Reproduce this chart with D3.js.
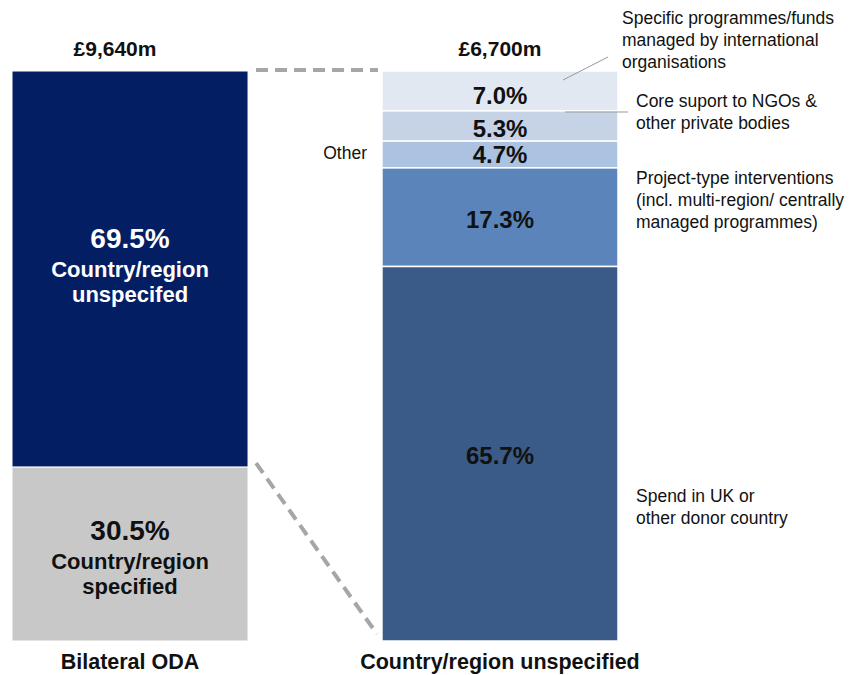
<!DOCTYPE html>
<html><head><meta charset="utf-8">
<script src="https://cdn.jsdelivr.net/npm/d3@7"></script>
<style>body{margin:0;background:#fff}svg{font-family:"Liberation Sans",Arial,sans-serif}</style>
</head><body><svg id="c" width="867" height="675"></svg>
<script>
const leftCats = ["Country/region unspecifed", "Country/region specified"];
const leftVals = [69.5, 30.5];
const leftColors = ["#041e63", "#c8c8c8"];
const rightCats = ["Specific programmes/funds managed by international organisations", "Core suport to NGOs & other private bodies", "Other", "Project-type interventions", "Spend in UK or other donor country"];
const rightVals = [7.0, 5.3, 4.7, 17.3, 65.7];
const rightColors = ["#e2e8f1", "#c6d3e6", "#abc2e0", "#5b85ba", "#3a5a88"];
const totals = ["£9,640m", "£6,700m"];
const barNames = ["Bilateral ODA", "Country/region unspecified"];

const svg = d3.select("#c");
const y = d3.scaleLinear().domain([0, 100]).range([641, 71]);
const x = d3.scaleBand().domain(barNames).range([12, 618]).paddingInner(0.362);
const bw = x.bandwidth();

function stack(vals) {
  let acc = 0; const out = [];
  vals.forEach(v => { out.push({top: 100 - acc, bot: 100 - acc - v, v}); acc += v; });
  return out;
}
const ls = stack(leftVals), rs = stack(rightVals);

const lx = x(barNames[0]);
svg.selectAll(".lb").data(ls).enter().append("rect")
  .attr("x", lx).attr("width", bw)
  .attr("y", d => y(d.top)).attr("height", d => y(d.bot) - y(d.top))
  .attr("fill", (d, i) => leftColors[i]).attr("stroke", "#fff").attr("stroke-width", 1);

const rx = x(barNames[1]);
svg.selectAll(".rb").data(rs).enter().append("rect")
  .attr("x", rx).attr("width", bw)
  .attr("y", d => y(d.top)).attr("height", d => y(d.bot) - y(d.top))
  .attr("fill", (d, i) => rightColors[i]).attr("stroke", "#fff").attr("stroke-width", 1.5);

const lc = lx + bw / 2;
const lt0 = svg.append("text").attr("text-anchor", "middle").attr("fill", "#fff").attr("font-weight", "bold");
lt0.append("tspan").attr("x", lc).attr("y", y(ls[0].top) + 177).attr("font-size", 28).text(leftVals[0].toFixed(1) + "%");
lt0.append("tspan").attr("x", lc).attr("y", y(ls[0].top) + 206).attr("font-size", 22).text("Country/region");
lt0.append("tspan").attr("x", lc).attr("y", y(ls[0].top) + 231).attr("font-size", 22).text("unspecifed");

const lt1 = svg.append("text").attr("text-anchor", "middle").attr("fill", "#111").attr("font-weight", "bold");
lt1.append("tspan").attr("x", lc).attr("y", y(ls[1].top) + 73).attr("font-size", 28).text(leftVals[1].toFixed(1) + "%");
lt1.append("tspan").attr("x", lc).attr("y", y(ls[1].top) + 102).attr("font-size", 22).text("Country/region");
lt1.append("tspan").attr("x", lc).attr("y", y(ls[1].top) + 127).attr("font-size", 22).text("specified");

const rc = rx + bw / 2;
const rOff = [33, 26, 22, 60, 197];
svg.selectAll(".rl").data(rs).enter().append("text")
  .attr("x", rc).attr("y", (d, i) => y(d.top) + rOff[i])
  .attr("text-anchor", "middle").attr("font-weight", "bold").attr("font-size", 24).attr("fill", "#111")
  .text(d => d.v.toFixed(1) + "%");

const totOff = [-15, 0];
svg.selectAll(".tot").data(totals).enter().append("text")
  .attr("x", (d, i) => x(barNames[i]) + bw / 2 + totOff[i]).attr("y", 56)
  .attr("text-anchor", "middle").attr("font-weight", "bold").attr("font-size", 21).attr("fill", "#111")
  .text(d => d);

svg.selectAll(".bn").data(barNames).enter().append("text")
  .attr("x", (d, i) => x(d) + bw / 2).attr("y", 669)
  .attr("text-anchor", "middle").attr("font-weight", "bold").attr("font-size", 21.5).attr("fill", "#111")
  .text(d => d);

const dash = svg.append("g").attr("stroke", "#a6a6a6").attr("stroke-width", 4).attr("stroke-dasharray", "12,7").attr("fill", "none");
dash.append("line").attr("x1", lx + bw + 8).attr("y1", y(100) - 1).attr("x2", rx - 4).attr("y2", y(100) - 1);
dash.append("line").attr("x1", lx + bw + 8).attr("y1", y(ls[0].bot) - 4).attr("x2", rx - 5).attr("y2", y(0) - 7);

svg.append("text").attr("x", 367).attr("y", y(rs[2].top) + 18).attr("text-anchor", "end")
  .attr("font-size", 17.5).attr("fill", "#111").text(rightCats[2]);

const ann = [
  {lines: ["Specific programmes/funds", "managed by international", "organisations"], x: 622, y: 24},
  {lines: ["Core suport to NGOs &", "other private bodies"], x: 636, y: 107},
  {lines: ["Project-type interventions", "(incl. multi-region/ centrally", "managed programmes)"], x: 636, y: 184},
  {lines: ["Spend in UK or", "other donor country"], x: 636, y: 502}
];
ann.forEach(a => {
  const t = svg.append("text").attr("font-size", 17.5).attr("fill", "#111");
  a.lines.forEach((l, i) => t.append("tspan").attr("x", a.x).attr("y", a.y + i * 22).text(l));
});
svg.append("line").attr("x1", 563).attr("y1", 80).attr("x2", 608).attr("y2", 57).attr("stroke", "#999").attr("stroke-width", 1);
svg.append("line").attr("x1", 565).attr("y1", 112).attr("x2", 628).attr("y2", 112).attr("stroke", "#999").attr("stroke-width", 1);
</script></body></html>
